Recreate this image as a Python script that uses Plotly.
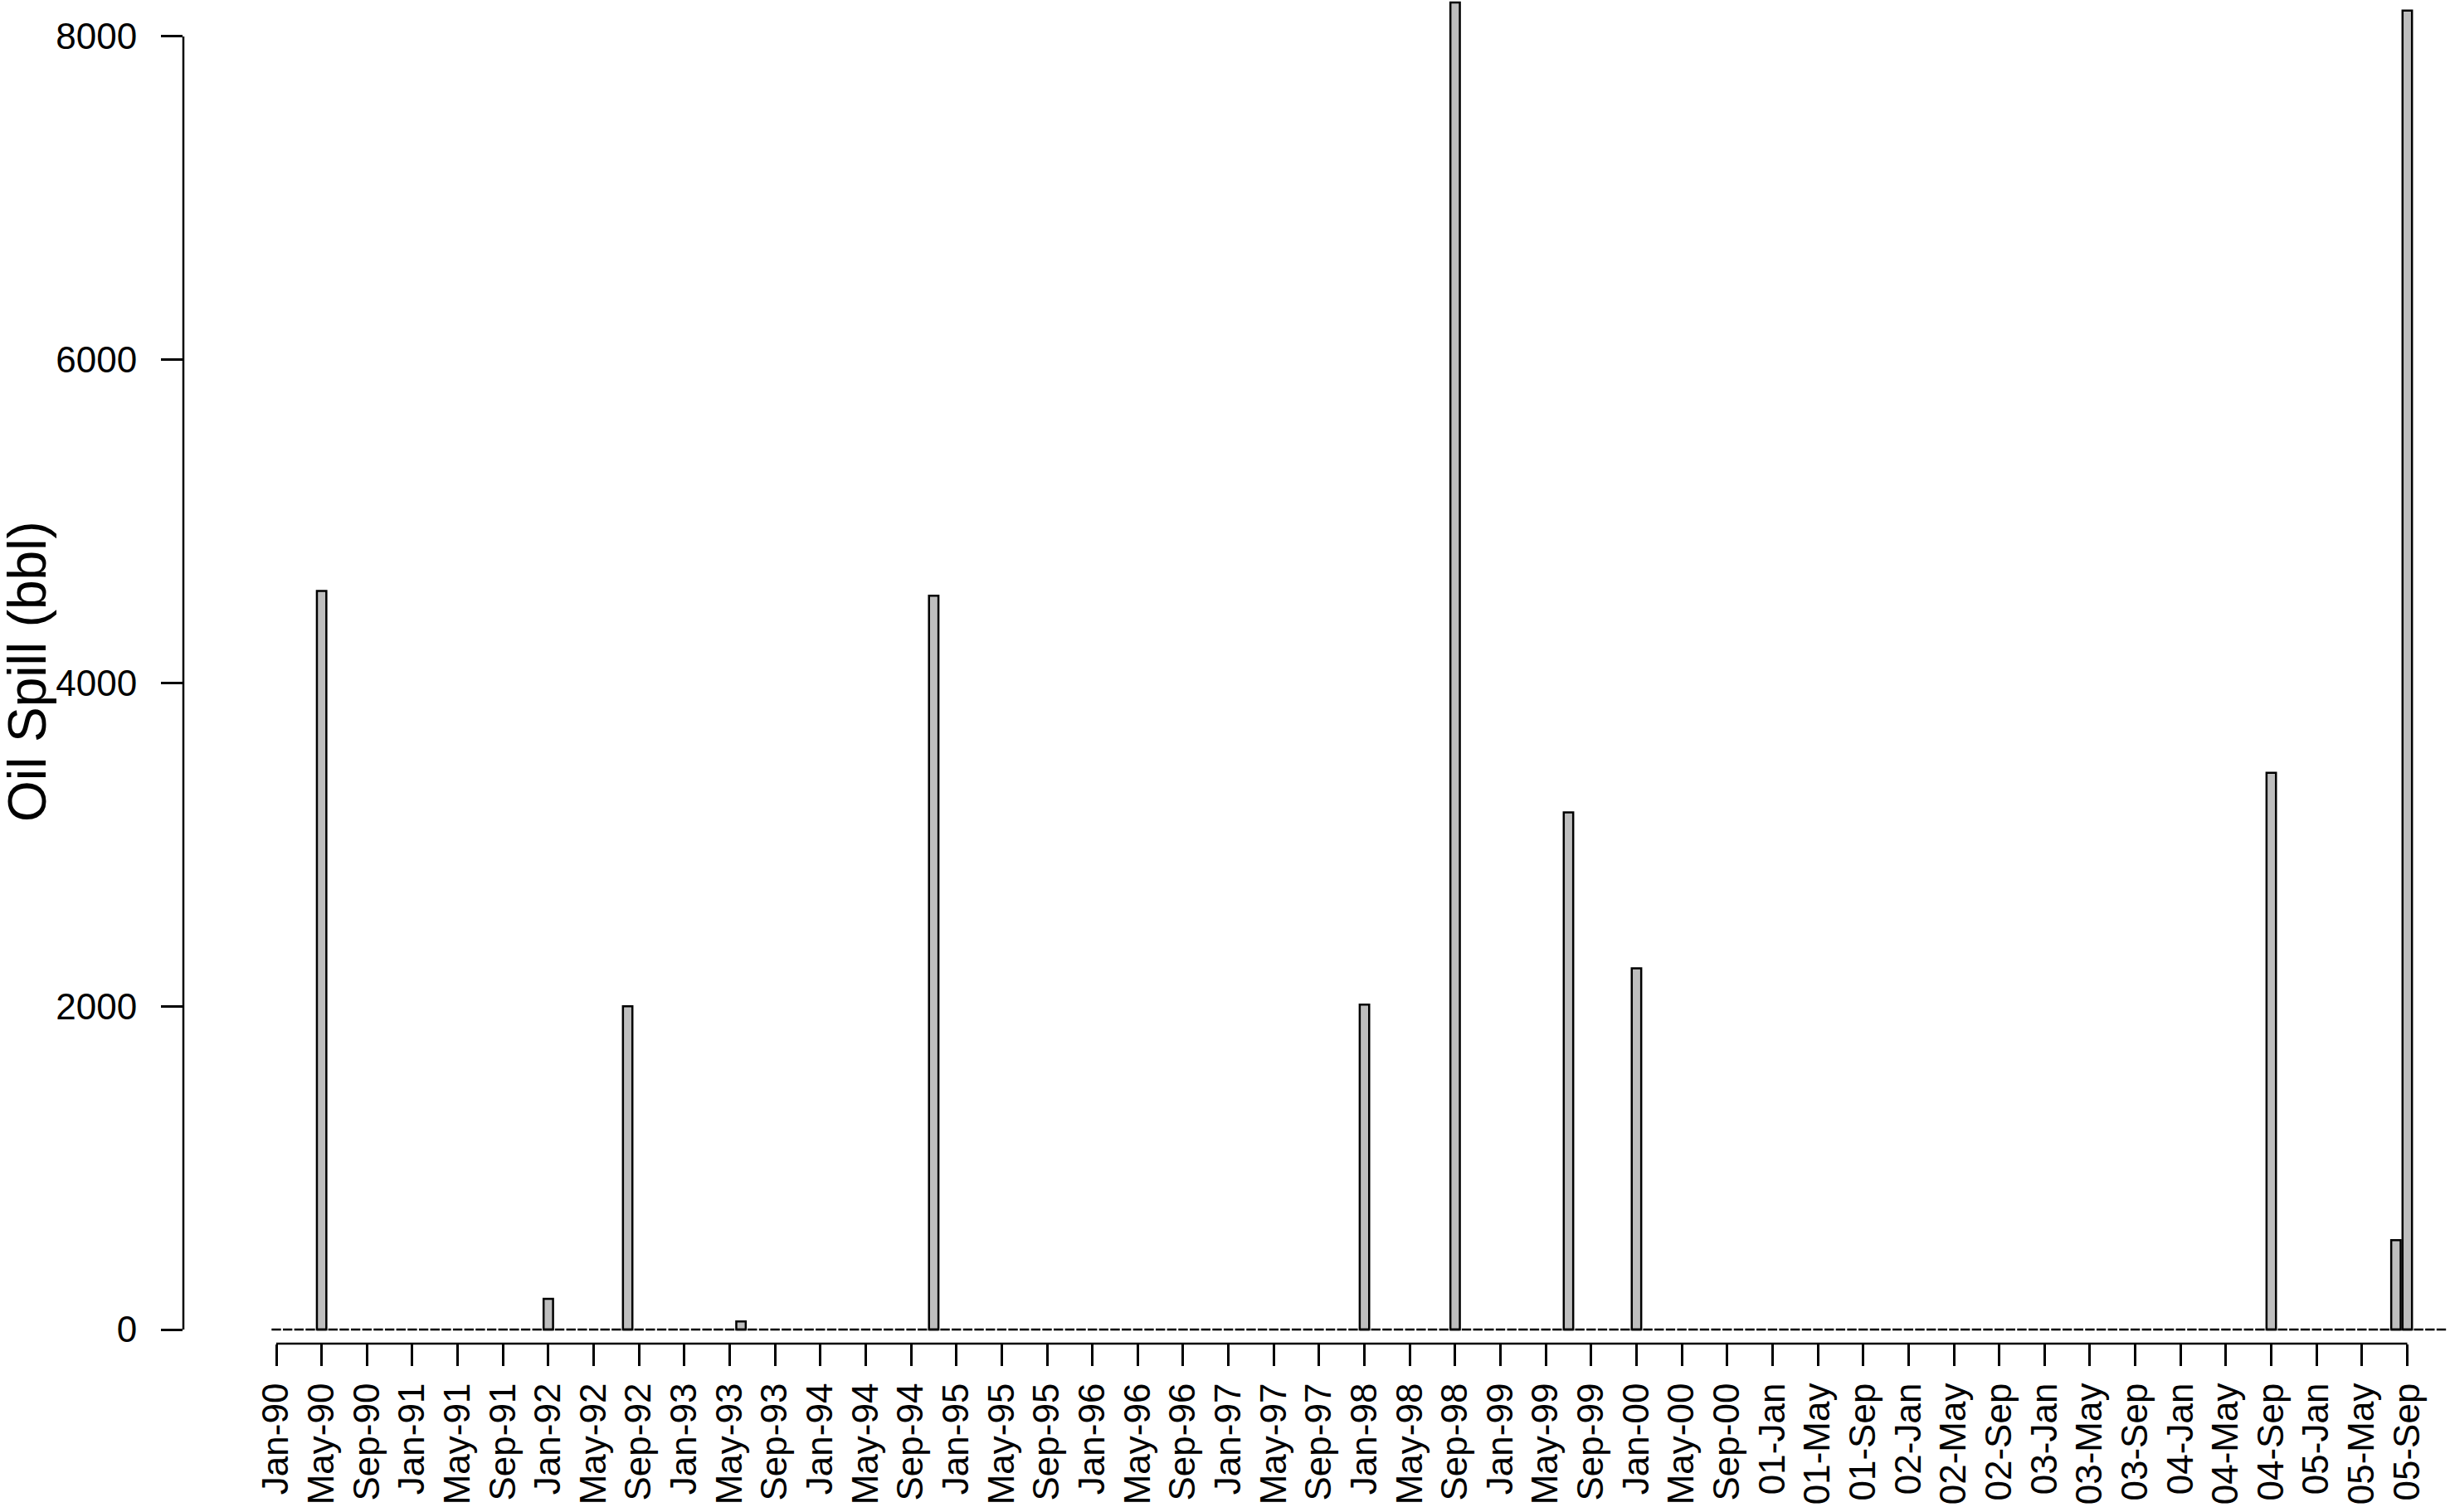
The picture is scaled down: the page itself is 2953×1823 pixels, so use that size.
import pandas as pd
import plotly.graph_objects as go

# monthly record, Jan-1990 .. Dec-2005
months = pd.date_range("1990-01-01", "2005-12-01", freq="MS")

# months with a spill and the volume (bbl)
spill_month = ["1990-05", "1992-01", "1992-08", "1993-06", "1994-11", "1998-01",
               "1998-09", "1999-07", "2000-01", "2004-09", "2005-08", "2005-09"]
spill_bbl = [4570, 190, 2000, 50, 4540, 2010, 8210, 3200, 2235, 3445, 553, 8160]

# x tick labels, one every 4 months (as printed)
tick_labels = ["Jan-90", "May-90", "Sep-90", "Jan-91", "May-91", "Sep-91",
               "Jan-92", "May-92", "Sep-92", "Jan-93", "May-93", "Sep-93",
               "Jan-94", "May-94", "Sep-94", "Jan-95", "May-95", "Sep-95",
               "Jan-96", "May-96", "Sep-96", "Jan-97", "May-97", "Sep-97",
               "Jan-98", "May-98", "Sep-98", "Jan-99", "May-99", "Sep-99",
               "Jan-00", "May-00", "Sep-00", "01-Jan", "01-May", "01-Sep",
               "02-Jan", "02-May", "02-Sep", "03-Jan", "03-May", "03-Sep",
               "04-Jan", "04-May", "04-Sep", "05-Jan", "05-May", "05-Sep"]
y_ticks = [0, 2000, 4000, 6000, 8000]

# full monthly series (zero where no spill)
s = pd.Series(0.0, index=months.strftime("%Y-%m"))
s[spill_month] = spill_bbl
idx = list(range(len(s)))
tick_pos = idx[::4][:len(tick_labels)]

W = 1 / 1.2  # R barplot: width 1, space 0.2
FONT = "Liberation Sans, Arial, sans-serif"

fig = go.Figure()

# zero-height bars show up as a dashed baseline of their borders
dx, dy = [], []
for i in idx:
    dx += [i - W / 2, i + W / 2, None]
    dy += [0, 0, None]
fig.add_trace(go.Scatter(x=dx, y=dy, mode="lines", line=dict(color="black", width=2.5),
                         hoverinfo="skip", showlegend=False))

nz = s.values > 0
fig.add_trace(go.Bar(x=[i for i, k in zip(idx, nz) if k], y=s.values[nz], width=W,
                     marker=dict(color="#BEBEBE", line=dict(color="black", width=2.5)),
                     showlegend=False))

fig.update_layout(width=2953, height=1823, autosize=False,
                  margin=dict(l=221, r=0, t=0, b=203),
                  plot_bgcolor="white", paper_bgcolor="white",
                  font=dict(family=FONT, color="black", size=44),
                  shapes=[dict(type="line", xref="paper", yref="y", x0=0, x1=0,
                               y0=y_ticks[0], y1=y_ticks[-1], line=dict(color="black", width=2.5)),
                          dict(type="line", xref="x", yref="paper", x0=tick_pos[0], x1=tick_pos[-1],
                               y0=0, y1=0, line=dict(color="black", width=2.5))],
                  annotations=[dict(text="Oil Spill (bbl)", textangle=-90, showarrow=False,
                                    xref="paper", yref="paper", x=-0.0688, y=0.5,
                                    xanchor="center", yanchor="middle",
                                    font=dict(size=64, family=FONT, color="black"))])

fig.update_xaxes(range=[-8.198, 191.77], tickvals=tick_pos, ticktext=tick_labels,
                 tickangle=-90, ticks="outside", ticklen=26, tickwidth=2.5, tickcolor="black",
                 ticklabelstandoff=3, showgrid=False, zeroline=False, showline=False,
                 tickfont=dict(size=44), automargin=False)
fig.update_yaxes(range=[-87.2, 8225.6], tickvals=y_ticks, ticks="outside", ticklen=26,
                 tickwidth=2.5, tickcolor="black", ticklabelstandoff=20,
                 showgrid=False, zeroline=False, showline=False, tickfont=dict(size=44),
                 automargin=False)

fig.write_html("out.html", config={"displayModeBar": False},
               post_script="document.body.style.margin='0';")
